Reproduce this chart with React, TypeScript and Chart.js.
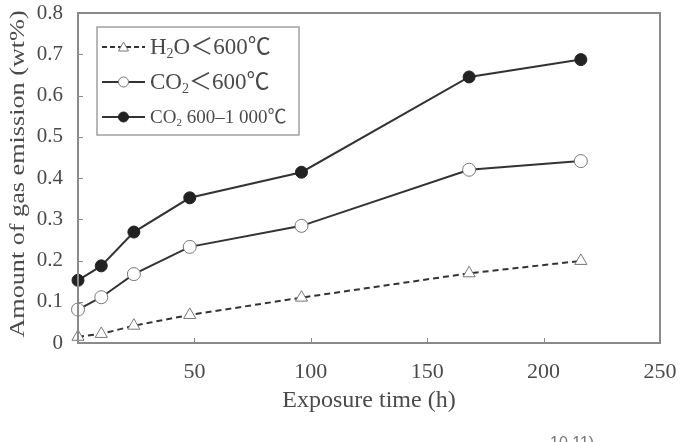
import React, { useEffect, useRef } from "react";
import { Chart, registerables } from "chart.js";

Chart.register(...registerables);

const hours = [0, 10, 24, 48, 96, 168, 216];
const h2oBelow600 = [0.015, 0.022, 0.042, 0.068, 0.11, 0.169, 0.199];
const co2Below600 = [0.081, 0.111, 0.167, 0.233, 0.284, 0.42, 0.441];
const co2600to1000 = [0.152, 0.187, 0.269, 0.352, 0.414, 0.645, 0.687];
const xTicks = [50, 100, 150, 200, 250];
const yTicks = [0, 0.1, 0.2, 0.3, 0.4, 0.5, 0.6, 0.7, 0.8];
const xTitle = "Exposure time (h)";
const yTitle = "Amount of gas emission (wt%)";
const captionFragment = "10,11)";

type Seg = { t: string; sub?: boolean };
const legendRows: { segs: Seg[]; size: number; style: "tri" | "open" | "filled" }[] = [
  { segs: [{ t: "H" }, { t: "2", sub: true }, { t: "O＜600℃" }], size: 23, style: "tri" },
  { segs: [{ t: "CO" }, { t: "2", sub: true }, { t: "＜600℃" }], size: 23, style: "open" },
  { segs: [{ t: "CO" }, { t: "2", sub: true }, { t: " 600–1 000℃" }], size: 19, style: "filled" },
];

const SERIF = "'Liberation Serif', 'Times New Roman', 'Noto Sans CJK SC', serif";
const TEXT = "#4a4a4a";
const AXIS = "#8a8a8a";
const LINE = "#333333";

const toPts = (ys: number[]) => hours.map((x, i) => ({ x, y: ys[i] }));

const framePlugin = {
  id: "frame",
  afterDatasetsDraw(chart: any) {
    const { ctx, chartArea: a, scales } = chart;
    ctx.save();
    ctx.strokeStyle = AXIS;
    ctx.lineWidth = 2;
    ctx.strokeRect(a.left, a.top, a.right - a.left, a.bottom - a.top);
    ctx.lineWidth = 1;
    ctx.beginPath();
    xTicks.forEach((v) => {
      const px = Math.round(scales.x.getPixelForValue(v)) + 0.5;
      ctx.moveTo(px, a.bottom);
      ctx.lineTo(px, a.bottom - 5);
    });
    yTicks.forEach((v) => {
      const py = Math.round(scales.y.getPixelForValue(v)) + 0.5;
      ctx.moveTo(a.left, py);
      ctx.lineTo(a.left + 5, py);
    });
    ctx.stroke();

    // y axis title, slightly stretched like the reference
    ctx.save();
    ctx.translate(18, (a.top + a.bottom) / 2 - 4);
    ctx.rotate(-Math.PI / 2);
    ctx.scale(1.19, 1);
    ctx.font = `22px ${SERIF}`;
    ctx.fillStyle = TEXT;
    ctx.textAlign = "center";
    ctx.textBaseline = "middle";
    ctx.fillText(yTitle, 0, 0);
    ctx.restore();

    // legend box
    const bx = a.left + 19, by = a.top + 14, bw = 202, bh = 108;
    ctx.fillStyle = "#ffffff";
    ctx.fillRect(bx, by, bw, bh);
    ctx.strokeStyle = "#a0a0a0";
    ctx.lineWidth = 1.5;
    ctx.strokeRect(bx, by, bw, bh);
    legendRows.forEach((row, i) => {
      const cy = by + 20 + i * 35;
      const lx0 = bx + 5, lx1 = bx + 48, mx = (lx0 + lx1) / 2;
      ctx.strokeStyle = LINE;
      ctx.lineWidth = 2;
      ctx.setLineDash(row.style === "tri" ? [5, 3] : []);
      ctx.beginPath();
      ctx.moveTo(lx0, cy);
      ctx.lineTo(lx1, cy);
      ctx.stroke();
      ctx.setLineDash([]);
      ctx.lineWidth = 1;
      if (row.style === "tri") {
        ctx.fillStyle = "#fff";
        ctx.strokeStyle = "#777";
        ctx.beginPath();
        ctx.moveTo(mx, cy - 5);
        ctx.lineTo(mx + 5, cy + 4);
        ctx.lineTo(mx - 5, cy + 4);
        ctx.closePath();
        ctx.fill();
        ctx.stroke();
      } else {
        ctx.beginPath();
        ctx.arc(mx, cy, 5, 0, Math.PI * 2);
        ctx.fillStyle = row.style === "open" ? "#fff" : "#222";
        ctx.strokeStyle = row.style === "open" ? "#777" : "#222";
        ctx.fill();
        ctx.stroke();
      }
      let tx = bx + 53;
      ctx.fillStyle = TEXT;
      ctx.textBaseline = "middle";
      ctx.textAlign = "left";
      row.segs.forEach((s) => {
        const sz = s.sub ? Math.round(row.size * 0.6) : row.size;
        ctx.font = `${sz}px ${SERIF}`;
        ctx.fillText(s.t, tx, s.sub ? cy + row.size * 0.3 : cy + 1);
        tx += ctx.measureText(s.t).width;
      });
    });

    // caption fragment (cut off at the bottom edge, as in the reference)
    ctx.font = `16px 'Liberation Sans', sans-serif`;
    ctx.fillStyle = "#777";
    ctx.textBaseline = "top";
    ctx.textAlign = "left";
    ctx.fillText(captionFragment, 550, 436);
    ctx.restore();
  },
};

export default function App() {
  const ref = useRef<HTMLCanvasElement>(null);
  useEffect(() => {
    if (!ref.current) return;
    const chart = new Chart(ref.current, {
      type: "line",
      data: {
        datasets: [
          {
            label: "H2O<600℃",
            data: toPts(h2oBelow600),
            borderColor: LINE,
            borderWidth: 2,
            borderDash: [6, 4],
            pointStyle: "triangle",
            pointRadius: 7,
            pointBackgroundColor: "#fff",
            pointBorderColor: "#777",
            pointBorderWidth: 1,
          },
          {
            label: "CO2<600℃",
            data: toPts(co2Below600),
            borderColor: LINE,
            borderWidth: 2,
            pointStyle: "circle",
            pointRadius: 6.5,
            pointBackgroundColor: "#fff",
            pointBorderColor: "#777",
            pointBorderWidth: 1,
          },
          {
            label: "CO2 600-1 000℃",
            data: toPts(co2600to1000),
            borderColor: LINE,
            borderWidth: 2,
            pointStyle: "circle",
            pointRadius: 6,
            pointBackgroundColor: "#222",
            pointBorderColor: "#222",
            pointBorderWidth: 1,
          },
        ],
      },
      options: {
        animation: false,
        responsive: false,
        clip: false as any,
        layout: { padding: { left: 0, right: 21, top: 13, bottom: 0 } },
        plugins: { legend: { display: false }, tooltip: { enabled: false } },
        scales: {
          x: {
            type: "linear",
            min: 0,
            max: 250,
            grid: { display: false, drawTicks: false },
            border: { display: false },
            afterFit: (s: any) => { s.height = 99; s.paddingLeft = 0; s.paddingRight = 0; },
            afterBuildTicks: (s: any) => { s.ticks = xTicks.map((v) => ({ value: v })); },
            ticks: { font: { family: SERIF, size: 22 }, color: TEXT, padding: 16, maxRotation: 0 },
            title: { display: true, text: xTitle, font: { family: SERIF, size: 24 }, color: TEXT, padding: { top: 0, bottom: 27 } },
          },
          y: {
            min: 0,
            max: 0.8,
            grid: { display: false, drawTicks: false },
            border: { display: false },
            afterFit: (s: any) => { s.width = 78; s.paddingTop = 0; s.paddingBottom = 0; },
            afterBuildTicks: (s: any) => { s.ticks = yTicks.map((v) => ({ value: v })); },
            ticks: { font: { family: SERIF, size: 21 }, color: TEXT, padding: 15, callback: (v: any) => (v === 0 ? "0" : Number(v).toFixed(1)) },
          },
        },
      },
      plugins: [framePlugin],
    });
    return () => chart.destroy();
  }, []);
  return (
    <div style={{ position: "fixed", left: 0, top: 0, width: 681, height: 442, background: "#fff" }}>
      <canvas ref={ref} width={681} height={442} style={{ display: "block" }} />
    </div>
  );
}
